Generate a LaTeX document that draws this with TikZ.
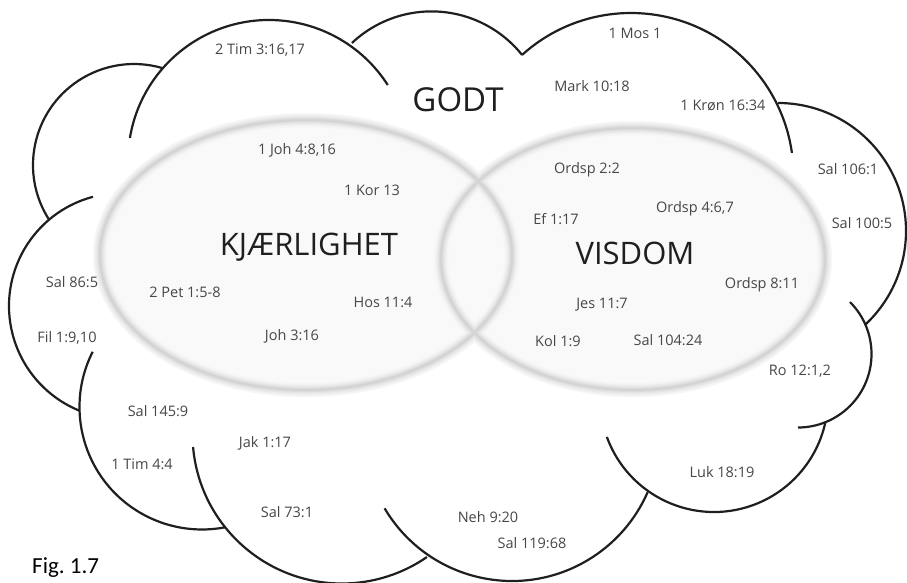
\documentclass[tikz,border=0pt]{standalone}
\usepackage{fontspec}
\setmainfont{Open Sans}
\newfontfamily\figfont{Carlito}

\begin{document}
\begin{tikzpicture}[x=1pt,y=1pt,
        cloud/.style={line width=2.2pt,black!88},
        ref/.style={inner sep=0pt,text=black!72,font=\fontsize{14.5}{16}\selectfont},
        big/.style={inner sep=0pt,text=black!88,font=\fontsize{31}{34}\selectfont}]
        \useasboundingbox (0,-583) rectangle (907,0);
        \fill[white] (0,-583) rectangle (907,0);

        \draw[cloud] (269,-161) ++(170.6:141) arc[start angle=170.6,end angle=32.6,radius=141];
        \draw[cloud] (431.5,-127.4) ++(133.3:116) arc[start angle=133.3,end angle=38.7,radius=116];
        \draw[cloud] (631,-175.5) ++(132.1:162.5) arc[start angle=132.1,end angle=8,radius=162.5];
        \draw[cloud] (778,-231) ++(90:128) arc[start angle=90,end angle=-47,radius=128];
        \draw[cloud] (798,-354) ++(45:73.5) arc[start angle=45,end angle=-90,radius=73.5];
        \draw[cloud] (714,-398) ++(200:114) arc[start angle=200,end angle=347.8,radius=114];
        \draw[cloud] (512,-433) ++(210.6:148) arc[start angle=210.6,end angle=336.4,radius=148];
        \draw[cloud] (342,-434) ++(185:149.5) arc[start angle=185,end angle=304.6,radius=149.5];
        \draw[cloud] (202,-407) ++(153.2:122.5) arc[start angle=153.2,end angle=281,radius=122.5];
        \draw[cloud] (122,-306) ++(104.9:113) arc[start angle=104.9,end angle=248,radius=113];
        \draw[cloud] (134,-165) ++(213.2:101) arc[start angle=213.2,end angle=73.4,radius=101];

        \fill[black!2.5] (306,-255) ellipse[x radius=206,y radius=135];
        \fill[black!2.5] (633,-259) ellipse[x radius=192,y radius=131];
        \foreach \w/\c in {14/4,10/7,7/10,4/14,2/17} {
                \draw[line width=\w pt,black!\c] (306,-255) ellipse[x radius=206,y radius=135];
                \draw[line width=\w pt,black!\c] (633,-259) ellipse[x radius=192,y radius=131];
        }

        \node[big,font=\fontsize{33}{36}\selectfont] (godt) at (458,-100) {GODT};
        \node[big] (kjaerlighet) at (309,-247) {KJÆRLIGHET};
        \node[big] (visdom) at (635,-253) {VISDOM};

        \node[ref] (tim2) at (260,-50) {2 Tim 3:16,17};
        \node[ref] (mos) at (635,-33) {1 Mos 1};
        \node[ref] (mark) at (592,-86) {Mark 10:18};
        \node[ref] (kron) at (723,-105) {1 Krøn 16:34};
        \node[ref] (sal106) at (848,-169) {Sal 106:1};
        \node[ref] (sal100) at (862,-223) {Sal 100:5};
        \node[ref] (ordsp22) at (587,-170) {Ordsp 2:2};
        \node[ref] (ef) at (556,-219) {Ef 1:17};
        \node[ref] (ordsp46) at (695,-209) {Ordsp 4:6,7};
        \node[ref] (ordsp811) at (762,-285) {Ordsp 8:11};
        \node[ref] (jes) at (602,-305) {Jes 11:7};
        \node[ref] (kol) at (558,-341) {Kol 1:9};
        \node[ref] (sal104) at (668,-340) {Sal 104:24};
        \node[ref] (ro) at (800,-371) {Ro 12:1,2};
        \node[ref] (luk) at (722,-472) {Luk 18:19};
        \node[ref] (neh) at (488,-517) {Neh 9:20};
        \node[ref] (sal119) at (532,-543) {Sal 119:68};
        \node[ref] (joh1) at (297,-150) {1 Joh 4:8,16};
        \node[ref] (kor) at (372,-190) {1 Kor 13};
        \node[ref] (sal86) at (72,-282) {Sal 86:5};
        \node[ref] (pet) at (185,-292) {2 Pet 1:5-8};
        \node[ref] (hos) at (383,-302) {Hos 11:4};
        \node[ref] (joh3) at (292,-336) {Joh 3:16};
        \node[ref] (fil) at (67,-338) {Fil 1:9,10};
        \node[ref] (sal145) at (158,-411) {Sal 145:9};
        \node[ref] (jak) at (265,-443) {Jak 1:17};
        \node[ref] (tim1) at (142,-464) {1 Tim 4:4};
        \node[ref] (sal73) at (287,-512) {Sal 73:1};

        \node[inner sep=0pt,anchor=west,font=\figfont\fontsize{23}{26}\selectfont] (fig) at (32,-568) {Fig.\ 1.7};
\end{tikzpicture}
\end{document}
